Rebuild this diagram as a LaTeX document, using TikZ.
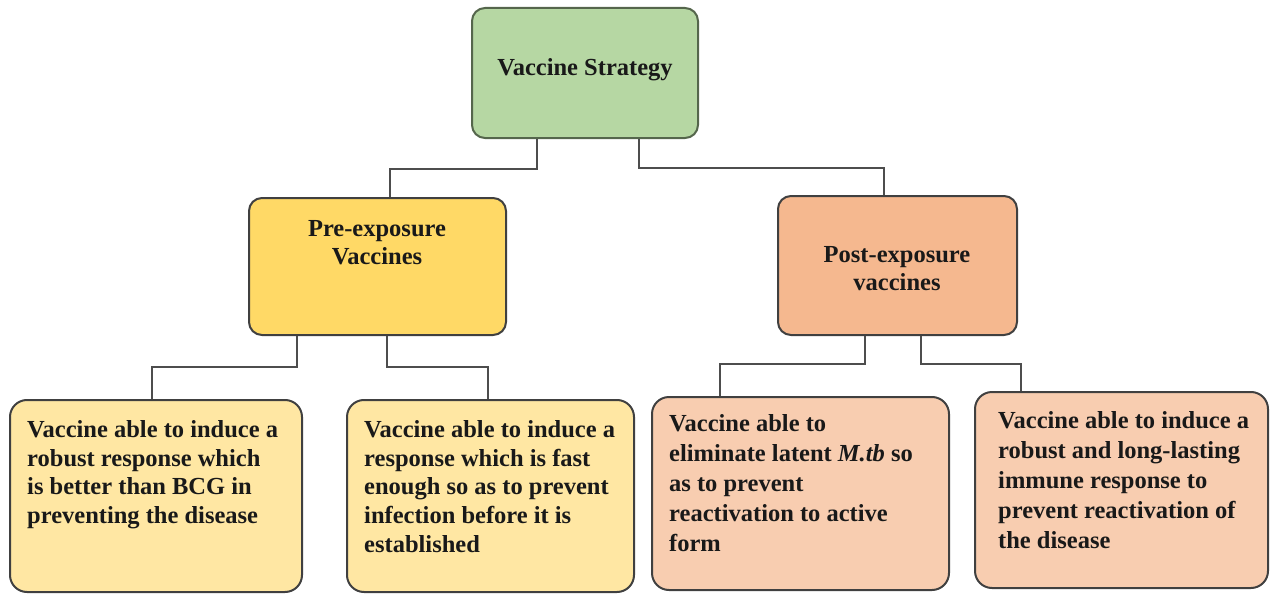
\documentclass[tikz,border=0pt]{standalone}
\usepackage{fontspec}
\setmainfont{Liberation Serif}
\usetikzlibrary{calc}
\definecolor{greenfill}{HTML}{B6D7A3}
\definecolor{greenedge}{HTML}{55664C}
\definecolor{yellowfill}{HTML}{FFD966}
\definecolor{orangefill}{HTML}{F5B88F}
\definecolor{paleyellow}{HTML}{FFE7A3}
\definecolor{palepeach}{HTML}{F8CDB0}
\definecolor{edgegray}{HTML}{404040}
\definecolor{conngray}{HTML}{4D4D4D}
\tikzset{
  boxbase/.style={draw=edgegray, line width=2pt, rounded corners=13pt, inner sep=0pt},
  topbox/.style={boxbase, fill=greenfill, draw=greenedge},
  prebox/.style={boxbase, fill=yellowfill},
  postbox/.style={boxbase, fill=orangefill},
  cyellow/.style={boxbase, fill=paleyellow, rounded corners=17pt},
  cpeach/.style={boxbase, fill=palepeach, rounded corners=17pt},
  headtxt/.style={inner sep=0pt, align=center, font=\fontsize{24.5}{28}\selectfont\bfseries, text=black!90},
  bodytxt/.style={inner sep=0pt, align=left, anchor=north west, font=\fontsize{24.5}{28.8}\selectfont\bfseries, text=black!90},
  bodytxtb/.style={bodytxt, font=\fontsize{24.5}{30}\selectfont\bfseries}
}
\tikzset{conn/.style={draw=conngray, line width=1.6pt}}
\begin{document}
\begin{tikzpicture}[x=1pt,y=-1pt]
\useasboundingbox (0,0) rectangle (1270,594);
% boxes
\node[topbox, minimum width=226pt, minimum height=130pt] (vs) at (585,73) {};
\node[prebox, minimum width=257pt, minimum height=137pt] (pre) at (377.5,266.5) {};
\node[postbox, minimum width=239pt, minimum height=139pt] (post) at (897.5,265.5) {};
\node[cyellow, minimum width=292pt, minimum height=192pt] (c1) at (156,496) {};
\node[cyellow, minimum width=287pt, minimum height=192pt] (c2) at (490.5,496) {};
\node[cpeach, minimum width=297pt, minimum height=193pt] (c3) at (800.5,493.5) {};
\node[cpeach, minimum width=293pt, minimum height=196pt] (c4) at (1121.5,490) {};
% texts
\node[headtxt] (vst) at (585,70) {Vaccine Strategy};
\node[headtxt] (pret) at (377,243) {Pre-exposure\\Vaccines};
\node[headtxt] (postt) at (897,269) {Post-exposure\\vaccines};
\node[bodytxt] (c1t) at ($(c1.north west)+(18,21)$) {Vaccine able to induce a\\robust response which\\is better than BCG in\\preventing the disease};
\node[bodytxt] (c2t) at ($(c2.north west)+(18,21)$) {Vaccine able to induce a\\response which is fast\\enough so as to prevent\\infection before it is\\established};
\node[bodytxtb] (c3t) at ($(c3.north west)+(18,18)$) {Vaccine able to\\eliminate latent \textit{M.tb} so\\as to prevent\\reactivation to active\\form};
\node[bodytxtb] (c4t) at ($(c4.north west)+(24,20)$) {Vaccine able to induce a\\robust and long-lasting\\immune response to\\prevent reactivation of\\the disease};
% connectors
\draw[conn] ([xshift=-48pt]vs.south) -- ++(0,30) -| ([xshift=12.5pt]pre.north);
\draw[conn] ([xshift=54pt]vs.south) -- ++(0,29) -| ([xshift=-13.5pt]post.north);
\draw[conn] ([xshift=-80.5pt]pre.south) -- ++(0,31) -| ([xshift=-4pt]c1.north);
\draw[conn] ([xshift=9.5pt]pre.south) -- ++(0,31) -| ([xshift=-2.5pt]c2.north);
\draw[conn] ([xshift=-32.5pt]post.south) -- ++(0,28) -| ([xshift=-80.5pt]c3.north);
\draw[conn] ([xshift=23.5pt]post.south) -- ++(0,28) -| ([xshift=-100.5pt]c4.north);
\end{tikzpicture}
\end{document}
